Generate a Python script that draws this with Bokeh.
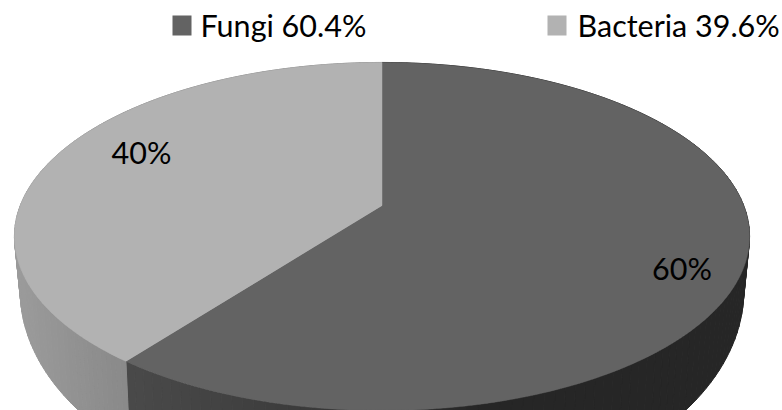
import numpy as np
from bokeh.core.properties import value
from bokeh.embed import file_html
from bokeh.models import Range1d
from bokeh.plotting import figure
from bokeh.resources import INLINE

categories = ["Fungi", "Bacteria"]
shares = [60.4, 39.6]
slice_labels = ["60%", "40%"]
legend_labels = ["Fungi 60.4%", "Bacteria 39.6%"]
top_colors = ["#636363", "#b2b2b2"]

W, H = 782, 410
FONT = value("Lato")

# Perspective disc: the pie's centre sits above the middle of its drawn ellipse.
TILT = 0.178
CX = 381.5


def project(theta, a, b, yc):
    """Clockwise angle from twelve o'clock to page coordinates on a tilted disc."""
    u, v = np.sin(theta), -np.cos(theta)
    w = 1 - TILT * v
    return CX + a * u / w, yc + b * v / w


def top(theta):
    return project(theta, 361.7, 168.5, 205.0)


def base(theta):
    return project(theta, 356.0, 213.0, 251.0)


def wall_grey(x, stops_x, stops_g):
    g = int(round(np.interp(x, stops_x, stops_g)))
    return f"#{g:02x}{g:02x}{g:02x}"


p = figure(width=W, height=H, output_backend="svg", toolbar_location=None,
           x_range=Range1d(0, W), y_range=Range1d(H, 0), min_border=0,
           outline_line_color=None)
p.axis.visible = False
p.grid.visible = False
p.background_fill_color = "white"
p.border_fill_color = "white"

fractions = np.array(shares) / sum(shares)
edges = np.concatenate([[0], np.cumsum(fractions)]) * 2 * np.pi

# Side wall, drawn as narrow shaded strips around the rim.
wall_shades = [([125, 300, 480], [74, 60, 38]), ([14, 125], [156, 138])]
xs, ys, cols = [], [], []
for i in range(2):
    stops_x, stops_g = wall_shades[i]
    th = np.linspace(edges[i], edges[i + 1], 140)
    for t0, t1 in zip(th[:-1], th[1:]):
        x0, y0 = top(t0)
        x1, y1 = top(t1)
        x2, y2 = base(t1)
        x3, y3 = base(t0)
        xs.append([x0, x1, x2, x3])
        ys.append([y0, y1, y2, y3])
        cols.append(wall_grey((x2 + x3) / 2, stops_x, stops_g))
p.patches(xs, ys, fill_color=cols, line_color=cols, line_width=1)

# Top face of each slice.
for i in range(2):
    th = np.linspace(edges[i], edges[i + 1], 240)
    x, y = top(th)
    p.patch(np.r_[CX, x], np.r_[205.0, y], fill_color=top_colors[i],
            line_color=top_colors[i], line_width=0.5)

# Value labels on the slices.
p.text([681.5, 141], [267, 151], text=slice_labels, text_font=FONT, text_font_size="30.5px",
       text_align="center", text_baseline="middle", text_color="#000000")

# Legend row.
p.rect([181.5, 556.5], [25, 25], width=19, height=20, fill_color=top_colors, line_color=None)
p.text([200, 577], [24, 24], text=legend_labels, text_font=FONT, text_font_size="30.5px",
       text_align="left", text_baseline="middle", text_color="#000000")

open("out.html", "w").write(file_html(p, INLINE))
